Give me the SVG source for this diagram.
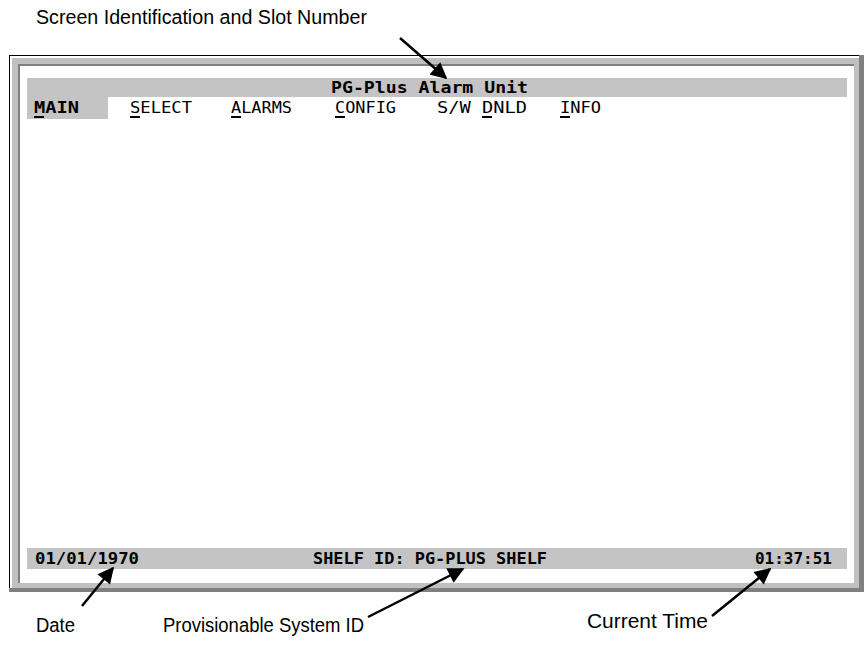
<svg xmlns="http://www.w3.org/2000/svg" width="866" height="645" viewBox="0 0 866 645">
<style>
.scr{font-family:"DejaVu Sans Mono","Liberation Mono",monospace;font-size:15px;fill:#000}
.b{font-weight:bold}
.lbl{font-family:"Liberation Sans Narrow","Liberation Sans",Arial,sans-serif;font-size:20px;fill:#000}
.ul{stroke:#000;stroke-width:2}
.arr{stroke:#000;stroke-width:2.5;fill:none}
</style>
<defs>
<marker id="ah" viewBox="0 0 10 10" refX="9" refY="5" markerWidth="7" markerHeight="6.5" markerUnits="strokeWidth" orient="auto">
<path d="M0,0 L10,5 L0,10 Z" fill="#000"/>
</marker>
</defs>
<rect width="866" height="645" fill="#fff"/>
<g id="frame">
<rect x="9" y="55" width="855" height="537" fill="#808080"/>
<rect x="9" y="55" width="850" height="533" fill="#000"/>
<rect x="10" y="56" width="849" height="532" fill="#fff"/>
<rect x="12" y="58" width="847" height="530" fill="#c0c0c0"/>
<rect x="18" y="64" width="836" height="519" fill="#808080"/>
<rect x="20" y="66" width="834" height="517" fill="#fff"/>
</g>
<g id="title-bar">
<rect x="27" y="78" width="820" height="19" fill="#c4c4c4"/>
<text class="scr b" x="331" y="93" textLength="197" lengthAdjust="spacingAndGlyphs">PG-Plus Alarm Unit</text>
</g>
<g id="menu">
<rect x="27" y="97" width="81" height="22" fill="#c4c4c4"/>
<text class="scr b" x="34" y="113" textLength="45" lengthAdjust="spacingAndGlyphs">MAIN</text>
<text class="scr" x="130" y="113" textLength="62" lengthAdjust="spacingAndGlyphs">SELECT</text>
<text class="scr" x="231" y="113" textLength="61" lengthAdjust="spacingAndGlyphs">ALARMS</text>
<text class="scr" x="335" y="113" textLength="61" lengthAdjust="spacingAndGlyphs">CONFIG</text>
<text class="scr" x="437" y="113" textLength="90" lengthAdjust="spacingAndGlyphs">S/W DNLD</text>
<text class="scr" x="560" y="113" textLength="41" lengthAdjust="spacingAndGlyphs">INFO</text>
<line class="ul" x1="34" y1="117" x2="44" y2="117"/>
<line class="ul" x1="130" y1="117" x2="140" y2="117"/>
<line class="ul" x1="231" y1="117" x2="241" y2="117"/>
<line class="ul" x1="335" y1="117" x2="345" y2="117"/>
<line class="ul" x1="482" y1="117" x2="492" y2="117"/>
<line class="ul" x1="560" y1="117" x2="570" y2="117"/>
</g>
<g id="status-bar">
<rect x="27" y="548" width="820" height="21" fill="#c4c4c4"/>
<text class="scr b" x="35" y="564" textLength="104" lengthAdjust="spacingAndGlyphs">01/01/1970</text>
<text class="scr b" x="313" y="564" textLength="234" lengthAdjust="spacingAndGlyphs">SHELF ID: PG-PLUS SHELF</text>
<text class="scr b" x="755" y="564" textLength="77" lengthAdjust="spacingAndGlyphs">01:37:51</text>
</g>
<g id="labels">
<text class="lbl" x="36" y="24" textLength="331" lengthAdjust="spacingAndGlyphs">Screen Identification and Slot Number</text>
<text class="lbl" x="36" y="632" textLength="39" lengthAdjust="spacingAndGlyphs">Date</text>
<text class="lbl" x="163" y="632" textLength="201" lengthAdjust="spacingAndGlyphs">Provisionable System ID</text>
<text class="lbl" x="587" y="628" textLength="121" lengthAdjust="spacingAndGlyphs">Current Time</text>
</g>
<g id="connectors">
<line class="arr" x1="400" y1="38" x2="446" y2="78" marker-end="url(#ah)"/>
<line class="arr" x1="82" y1="606" x2="113" y2="568" marker-end="url(#ah)"/>
<line class="arr" x1="368" y1="617" x2="463" y2="569" marker-end="url(#ah)"/>
<line class="arr" x1="712" y1="616" x2="770" y2="569" marker-end="url(#ah)"/>
</g>
</svg>
